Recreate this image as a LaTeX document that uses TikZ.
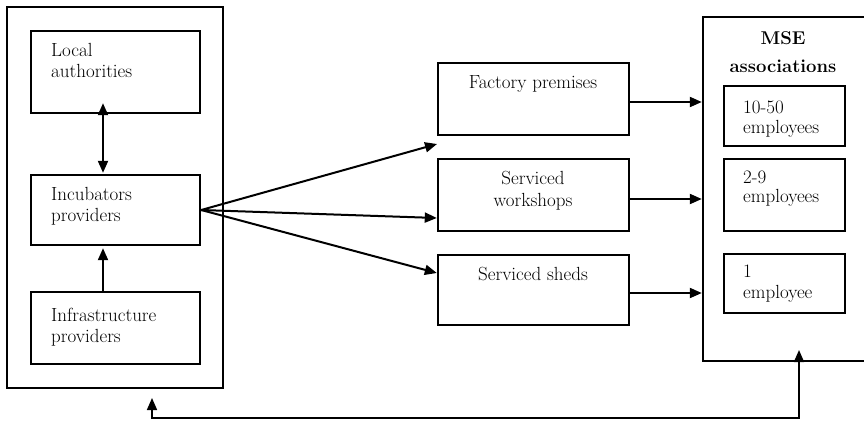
\documentclass[tikz,border=0pt]{standalone}
\usepackage{fontspec}
\usetikzlibrary{arrows.meta}
\begin{document}
\begin{tikzpicture}[x=1pt,y=-1pt,
  box/.style={draw,line width=2.4pt,inner sep=0pt},
  txt/.style={inner sep=0pt,align=left,font=\fontsize{19}{21}\selectfont},
  ctxt/.style={inner sep=0pt,align=center,font=\fontsize{19}{22}\selectfont},
  arr/.style={line width=2pt,-{Triangle[length=12pt,width=10pt]}},
  darr/.style={line width=2pt,{Triangle[length=12pt,width=10pt]}-{Triangle[length=12pt,width=10pt]}},
  fbarr/.style={line width=1.6pt,{Triangle[length=12pt,width=10pt]}-{Triangle[length=12pt,width=10pt]}}
]
\useasboundingbox (0,0) rectangle (864,420);

% left group
\node[box,minimum width=216pt,minimum height=381pt] (left) at (115,197.5) {};
\node[box,minimum width=169pt,minimum height=82pt] (la) at (115.5,72) {};
\node[box,minimum width=169pt,minimum height=70pt] (inc) at (115.5,210) {};
\node[box,minimum width=169pt,minimum height=72pt] (inf) at (115.5,328) {};
\node[txt,anchor=north west] (la-t) at (51,43.5) {Local\\authorities};
\node[txt,anchor=north west] (inc-t) at (51,187.5) {Incubators\\providers};
\node[txt,anchor=north west] (inf-t) at (51,307.5) {Infrastructure\\providers};

% middle
\node[box,minimum width=191pt,minimum height=72pt] (fp) at (533.5,99) {};
\node[box,minimum width=191pt,minimum height=72pt] (ws) at (533.5,195) {};
\node[box,minimum width=191pt,minimum height=70pt] (sh) at (533.5,290) {};
\node[ctxt,anchor=north] (fp-t) at (533,75.5) {Factory premises};
\node[ctxt,anchor=north] (ws-t) at (533,171.5) {Serviced\\workshops};
\node[ctxt,anchor=north] (sh-t) at (533,267.5) {Serviced sheds};

% right
\node[box,minimum width=169pt,minimum height=344pt] (mse) at (787.5,189) {};
\node[inner sep=0pt,align=center,font=\fontsize{18.5}{28}\selectfont\bfseries,anchor=north] (mse-t) at (783,31) {MSE\\associations};
\node[box,minimum width=121pt,minimum height=60pt] (e1) at (784.5,116) {};
\node[box,minimum width=121pt,minimum height=72pt] (e2) at (784.5,195) {};
\node[box,minimum width=121pt,minimum height=59pt] (e3) at (784.5,283.5) {};
\node[txt,anchor=north west,font=\fontsize{19}{20}\selectfont] (e1-t) at (743,100.5) {10-50\\employees};
\node[txt,anchor=north west,font=\fontsize{19}{19}\selectfont] (e2-t) at (743,170.5) {2-9\\employees};
\node[txt,anchor=north west,font=\fontsize{19}{21}\selectfont] (e3-t) at (743,264.5) {1\\employee};

% left internal arrows
\draw[darr] ([xshift=-12.5pt,yshift=11pt]la.south) -- ([xshift=-12.5pt,yshift=1pt]inc.north);
\draw[arr] ([xshift=-12.5pt]inf.north) -- ([xshift=-12.5pt,yshift=-2pt]inc.south);

% fan arrows
\coordinate (f1) at (437,144);
\draw[arr] (inc.east) -- (f1);
\draw[arr] (inc.east) -- ([yshift=-23pt]ws.west);
\draw[arr] (inc.east) -- ([yshift=17pt]sh.west);

% middle to MSE
\draw[arr] ([yshift=-3pt]fp.east) -- ([yshift=-3pt]fp.east -| mse.west);
\draw[arr] ([yshift=-4pt]ws.east) -- ([yshift=-4pt]ws.east -| mse.west);
\draw[arr] ([yshift=-3pt]sh.east) -- ([yshift=-3pt]sh.east -| mse.west);

% feedback
\coordinate (fbL) at (152,398);
\coordinate (fbR) at (799,350);
\draw[fbarr] (fbL) -- ++(0,20) -| (fbR);
\end{tikzpicture}
\end{document}
